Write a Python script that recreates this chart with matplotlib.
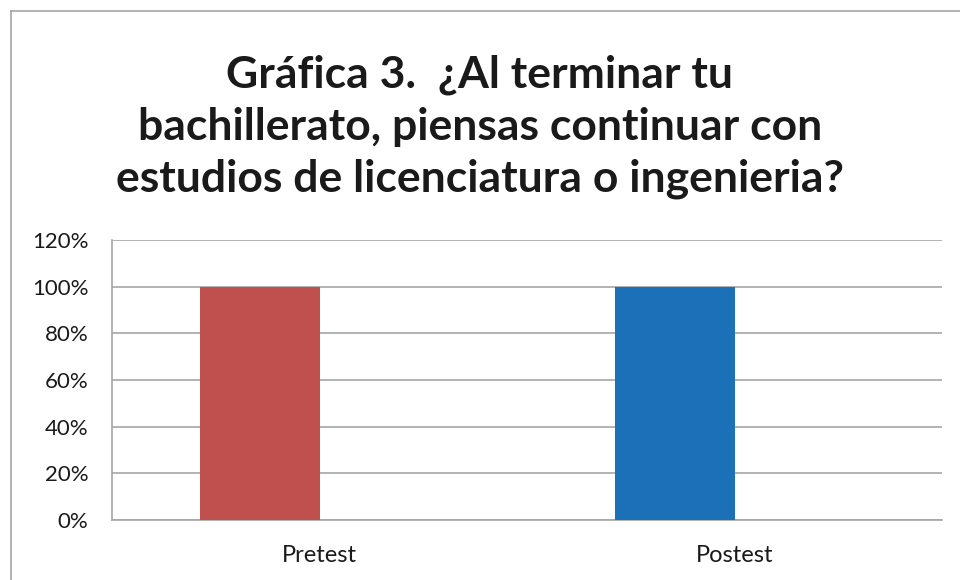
import numpy as np
import matplotlib.pyplot as plt
from matplotlib.lines import Line2D

# ==========================================
# DATA
# ==========================================

categories = ["Pretest", "Postest"]
values = [1.0, 1.0]          # share answering "yes"
bar_colors = ["#C0504D", "#1C70B8"]
y_ticks = [0, 0.2, 0.4, 0.6, 0.8, 1.0, 1.2]
y_tick_labels = ["0%", "20%", "40%", "60%", "80%", "100%", "120%"]

title = ("Gráfica 3.  ¿Al terminar tu\n"
         "bachillerato, piensas continuar con\n"
         "estudios de licenciatura o ingenieria?")

# ==========================================
# PLOT
# ==========================================

plt.rcParams["font.family"] = ["Lato", "DejaVu Sans"]

W, H = 960, 580
fig = plt.figure(figsize=(W / 100, H / 100), dpi=100)

# outer chart border (left + top visible)
fig.add_artist(Line2D([11 / W, 11 / W], [0, 1 - 11 / H],
                      transform=fig.transFigure, color="#A6A6A6", lw=1.2))
fig.add_artist(Line2D([11 / W, 1], [1 - 11 / H, 1 - 11 / H],
                      transform=fig.transFigure, color="#A6A6A6", lw=1.2))

ax = fig.add_axes([112 / W, 60 / H, 830 / W, 280 / H])

x = np.arange(len(categories))
bar_w = 0.287
ax.bar(x - bar_w / 2, values, width=bar_w, color=bar_colors, zorder=3)

ax.set_xlim(-0.5, len(categories) - 0.5)
ax.set_ylim(0, 1.2)
ax.set_yticks(y_ticks)
ax.set_yticklabels(y_tick_labels)
ax.set_xticks(x)
ax.set_xticklabels(categories)

ax.grid(axis="y", color="#A6A6A6", lw=1.2, zorder=0)
for side in ["top", "right"]:
    ax.spines[side].set_visible(False)
for side in ["left", "bottom"]:
    ax.spines[side].set_color("#A6A6A6")
    ax.spines[side].set_linewidth(1.2)

ax.tick_params(axis="y", length=0, pad=17, labelsize=16, labelcolor="#1a1a1a")
ax.tick_params(axis="x", length=0, pad=18, labelsize=17, labelcolor="#1a1a1a")

fig.text(0.5, 1 - 127 / H, title, ha="center", va="center",
         fontsize=32, fontweight="bold", color="#1a1a1a", linespacing=1.36)

plt.savefig("out.png", dpi=100)
